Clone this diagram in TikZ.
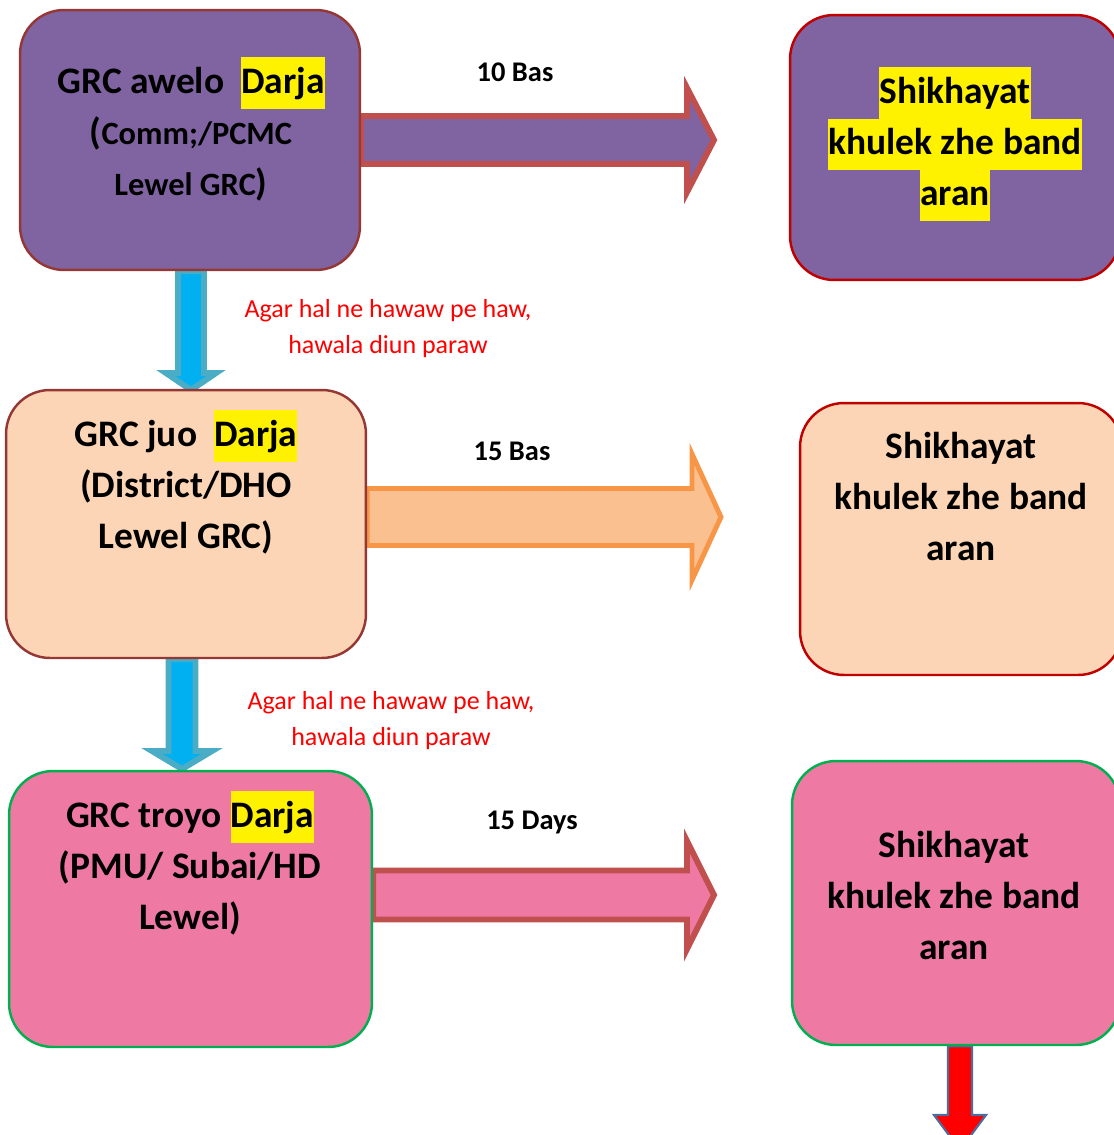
\documentclass[tikz,border=0pt]{standalone}
\usepackage{fontspec}
\setmainfont{Carlito}
\usetikzlibrary{calc,backgrounds}

\definecolor{grcpurple}{HTML}{8064A2}
\definecolor{grcpeach}{HTML}{FBD5B5}
\definecolor{grcpink}{HTML}{EE7AA4}
\definecolor{boxbrown}{HTML}{953735}
\definecolor{boxred}{HTML}{C00000}
\definecolor{boxgreen}{HTML}{00B050}
\definecolor{arrred}{HTML}{C0504D}
\definecolor{arrorange}{HTML}{F79646}
\definecolor{arrpeach}{HTML}{FAC090}
\definecolor{arrblue}{HTML}{00B0F0}
\definecolor{arrcyan}{HTML}{4BACC6}
\definecolor{arrsteel}{HTML}{4F6D9A}

\newcommand{\hl}[1]{{\setlength{\fboxsep}{0pt}\colorbox{yellow}{\strut #1}}}
% block arrows: style, start node, tip, half shaft, half head, head length
\newcommand{\rblock}[6]{\draw[#1] ($(#2 |- #3)+(0,-#4)$) -- ($(#3)+(-#6,-#4)$) -- ($(#3)+(-#6,-#5)$) -- (#3) -- ($(#3)+(-#6,#5)$) -- ($(#3)+(-#6,#4)$) -- ($(#2 |- #3)+(0,#4)$) -- cycle;}
\newcommand{\dblock}[6]{\draw[#1] ($(#2 -| #3)+(-#4,0)$) -- ($(#3)+(-#4,-#6)$) -- ($(#3)+(-#5,-#6)$) -- (#3) -- ($(#3)+(#5,-#6)$) -- ($(#3)+(#4,-#6)$) -- ($(#2 -| #3)+(#4,0)$) -- cycle;}

\tikzset{
	grcbox/.style={draw, rounded corners=25pt, line width=1.4pt, inner sep=0pt},
	boxtext/.style={align=center, inner sep=0pt, anchor=north, font=\bfseries\fontsize{21.3}{29.2}\selectfont},
	daylabel/.style={inner sep=0pt, anchor=base, font=\bfseries\fontsize{16.2}{19}\selectfont},
	redtext/.style={text=red, align=center, inner sep=0pt, anchor=north, font=\fontsize{14.8}{20.4}\selectfont},
	purplearrow/.style={fill=grcpurple, draw=arrred, line width=3.4pt},
	peacharrow/.style={fill=arrpeach, draw=arrorange, line width=2.8pt},
	pinkarrow/.style={fill=grcpink, draw=arrred, line width=3.4pt},
	bluearrow/.style={fill=arrblue, draw=arrcyan, line width=3.4pt},
	redarrow/.style={fill=red, draw=arrsteel, line width=1.2pt}
}

\begin{document}
\begin{tikzpicture}[x=0.02cm, y=-0.02cm, line join=miter]
	\useasboundingbox (0,0) rectangle (1114,1135);
	\clip (0,0) rectangle (1114,1135);

	% left column
	\node[grcbox, fill=grcpurple, draw=boxbrown, minimum width=6.8cm, minimum height=5.2cm] (b1) at (190,140) {};
	\node[grcbox, fill=grcpeach, draw=boxbrown, minimum width=7.2cm, minimum height=5.36cm] (b2) at (186,524) {};
	\node[grcbox, fill=grcpink, draw=boxgreen, minimum width=7.26cm, minimum height=5.52cm] (b3) at (190.5,909) {};

	% right column
	\node[grcbox, fill=grcpurple, draw=boxred, minimum width=6.6cm, minimum height=5.3cm] (r1) at (955,147.5) {};
	\node[grcbox, fill=grcpeach, draw=boxred, minimum width=6.44cm, minimum height=5.44cm] (r2) at (961,539) {};
	\node[grcbox, fill=grcpink, draw=boxgreen, minimum width=6.56cm, minimum height=5.68cm] (r3) at (956,903) {};

	\node[boxtext] (t1) at (191,57) {\strut GRC awelo\ \ \hl{Darja}\\
		\strut({\fontsize{18.5}{29.2}\selectfont Comm;/PCMC}\\
		\strut{\fontsize{18.5}{29.2}\selectfont Lewel GRC})};
	\node[boxtext] (t2) at (186,410) {\strut GRC juo\ \ \hl{Darja}\\ \strut(District/DHO\\ \strut Lewel GRC)};
	\node[boxtext] (t3) at (190,791) {\strut GRC troyo \hl{Darja}\\ \strut(PMU/ Subai/HD\\ \strut Lewel)};

	\node[boxtext] (s1) at (955,67) {\hl{Shikhayat}\\ \hl{khulek zhe band}\\ \hl{aran}};
	\node[boxtext] (s2) at (961,422) {\strut Shikhayat\\ \strut khulek zhe band\\ \strut aran};
	\node[boxtext] (s3) at (954,821) {\strut Shikhayat\\ \strut khulek zhe band\\ \strut aran};

	\node[daylabel] (l1) at (515,82) {10 Bas};
	\node[daylabel] (l2) at (512,460) {15 Bas};
	\node[daylabel] (l3) at (532,829) {15 Days};

	\node[redtext] (n1) at (388,292) {\strut Agar hal ne hawaw pe haw,\\ \strut hawala diun paraw};
	\node[redtext] (n2) at (391,684) {\strut Agar hal ne hawaw pe haw,\\ \strut hawala diun paraw};

	% arrow tips
	\coordinate (ta1) at (714,140);
	\coordinate (ta2) at (721,517);
	\coordinate (ta3) at (714,895);
	\coordinate (da1) at (191,390);
	\coordinate (da2) at (182,769);
	\coordinate (da3) at (960,1150);

	\begin{scope}[on background layer]
		\rblock{purplearrow}{b1.east}{ta1}{24}{52}{27}
		\rblock{peacharrow}{b2.east}{ta2}{28.5}{63}{29}
		\rblock{pinkarrow}{b3.east}{ta3}{24.5}{54}{27}
		\dblock{bluearrow}{b1.south}{da1}{13}{25}{17}
		\dblock{bluearrow}{b2.south}{da2}{13.5}{30}{18}
		\dblock{redarrow}{r3.south}{da3}{12}{26}{35}
	\end{scope}
\end{tikzpicture}
\end{document}
